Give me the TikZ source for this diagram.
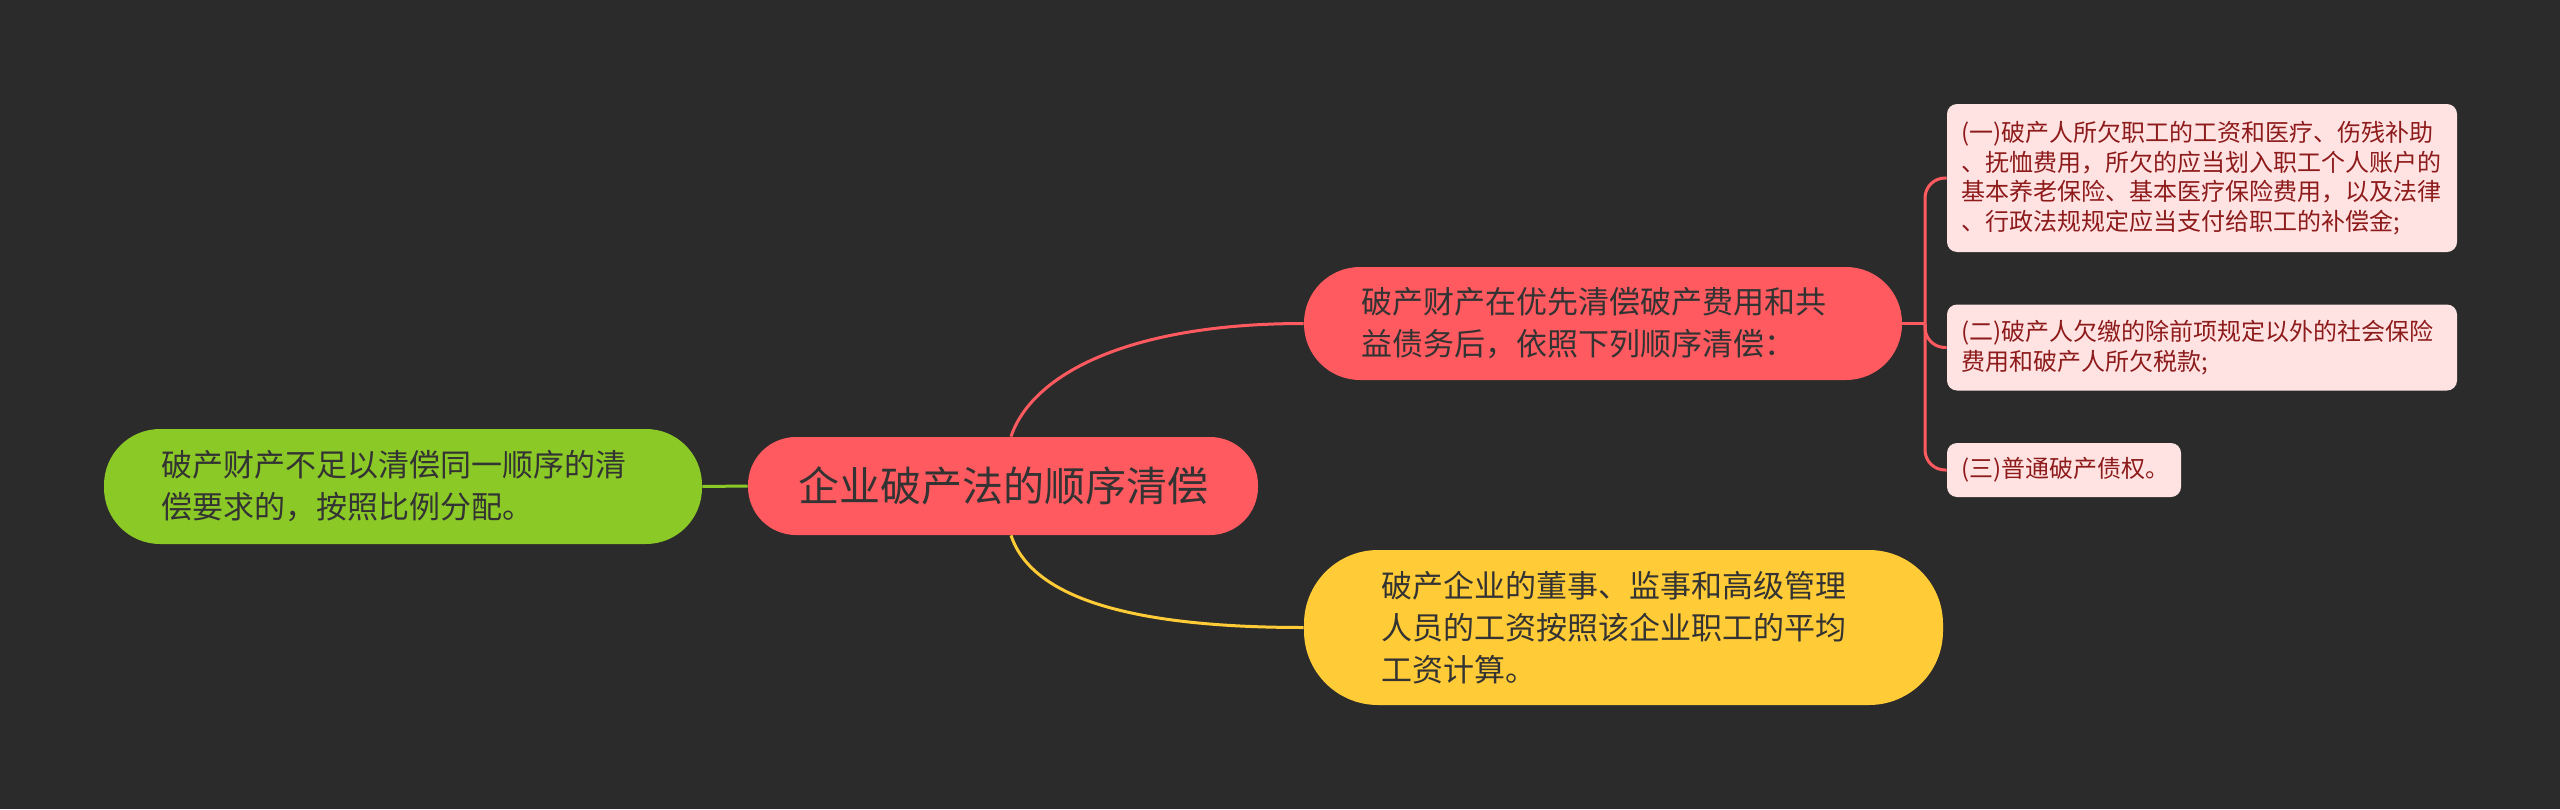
\documentclass[tikz,border=0pt]{standalone}
\usepackage{fontspec}
\setmainfont{Noto Sans CJK SC}
\definecolor{bgdark}{HTML}{2B2B2B}
\definecolor{redfill}{HTML}{FF5A5F}
\definecolor{greenfill}{HTML}{8BC926}
\definecolor{yellowfill}{HTML}{FFCB36}
\definecolor{leafpink}{HTML}{FFE3E3}
\definecolor{leafred}{HTML}{8E1B1B}
\definecolor{inktext}{HTML}{333333}
\begin{document}
\begin{tikzpicture}[x=0.5pt,y=-0.5pt,
		pill/.style={inner sep=0pt,align=left,text width=242pt,text=inktext,font=\fontsize{15.5}{21}\selectfont},
		leaf/.style={fill=leafpink,text=leafred,rounded corners=5pt,inner xsep=7pt,inner ysep=0pt,align=left,text width=241pt,font=\fontsize{12}{14.7}\selectfont},
		link/.style={line width=1.5pt}]
	\fill[bgdark] (0,0) rectangle (2560,809);
	\node[pill,fill=redfill,minimum width=255pt,minimum height=49pt,rounded corners=24pt,text width=,align=center,font=\fontsize{20.5}{24}\selectfont] (root) at (1003,486) {企业破产法的顺序清偿};
	\node[pill,fill=redfill,minimum width=299pt,minimum height=56.5pt,rounded corners=28pt] (order) at (1603,323.5) {破产财产在优先清偿破产费用和共\\益债务后，依照下列顺序清偿：};
	\node[pill,fill=yellowfill,minimum width=319.5pt,minimum height=77.5pt,rounded corners=37pt] (wages) at (1623.5,627.5) {破产企业的董事、监事和高级管理\\人员的工资按照该企业职工的平均\\工资计算。};
	\node[pill,fill=greenfill,minimum width=299pt,minimum height=57.5pt,rounded corners=28pt] (ratio) at (403,486.5) {破产财产不足以清偿同一顺序的清\\偿要求的，按照比例分配。};
	\node[leaf,minimum height=74pt] (first) at (2202,178) {(一)破产人所欠职工的工资和医疗、伤残补助\\、抚恤费用，所欠的应当划入职工个人账户的\\基本养老保险、基本医疗保险费用，以及法律\\、行政法规规定应当支付给职工的补偿金;};
	\node[leaf,minimum height=43pt] (second) at (2202,347.5) {(二)破产人欠缴的除前项规定以外的社会保险\\费用和破产人所欠税款;};
	\node[leaf,minimum height=27pt,text width=103pt] (third) at (2064,470) {(三)普通破产债权。};
	\coordinate (hub) at (1925,323.5);
	\draw[link,redfill] ([xshift=4pt]root.north) .. controls +(20,-60) and +(-180,0) .. (order.west);
	\draw[link,yellowfill] ([xshift=4pt]root.south) .. controls +(20,60) and +(-180,0) .. (wages.west);
	\draw[link,greenfill] (root.west) -- (ratio.east);
	\draw[link,redfill] (order.east) -- (hub);
	\foreach \leafname in {first,second,third}
		\draw[link,redfill,rounded corners=10pt] (hub) |- (\leafname.west);
\end{tikzpicture}
\end{document}
